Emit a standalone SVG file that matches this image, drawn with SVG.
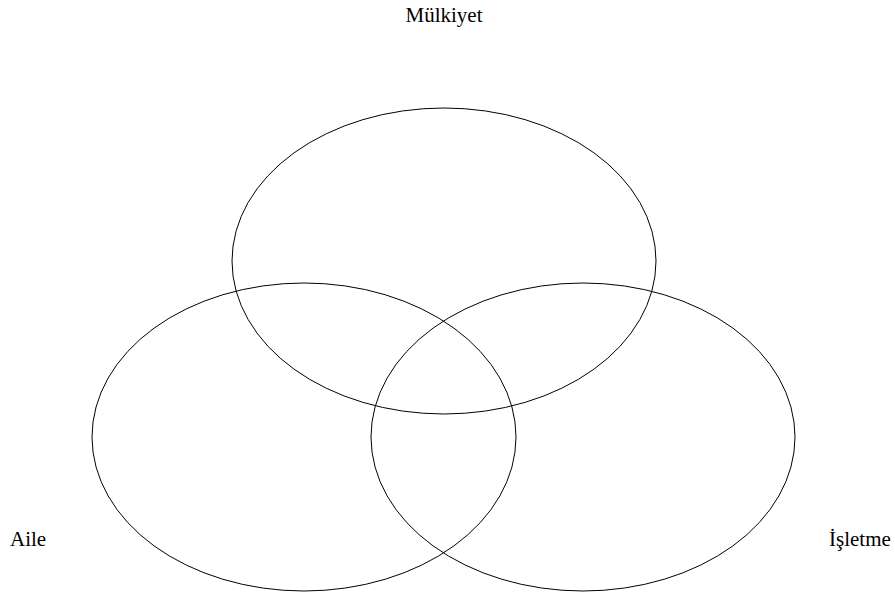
<svg xmlns="http://www.w3.org/2000/svg" width="895" height="594" viewBox="0 0 895 594">
<style>
.c{fill:none;stroke:#000;stroke-width:1}
.t{font-family:"Liberation Serif","Times New Roman",serif;font-size:21px;fill:#000}
</style>
<rect width="895" height="594" fill="#fff"/>
<g id="mulkiyet"><ellipse class="c" cx="444" cy="261" rx="212" ry="153"/><text class="t" x="444" y="22" text-anchor="middle">Mülkiyet</text></g>
<g id="aile"><ellipse class="c" cx="304" cy="437" rx="212" ry="154"/><text class="t" x="10" y="546">Aile</text></g>
<g id="isletme"><ellipse class="c" cx="583" cy="437" rx="212" ry="154"/><text class="t" x="829" y="546">İşletme</text></g>
<g id="connectors"/>
</svg>
